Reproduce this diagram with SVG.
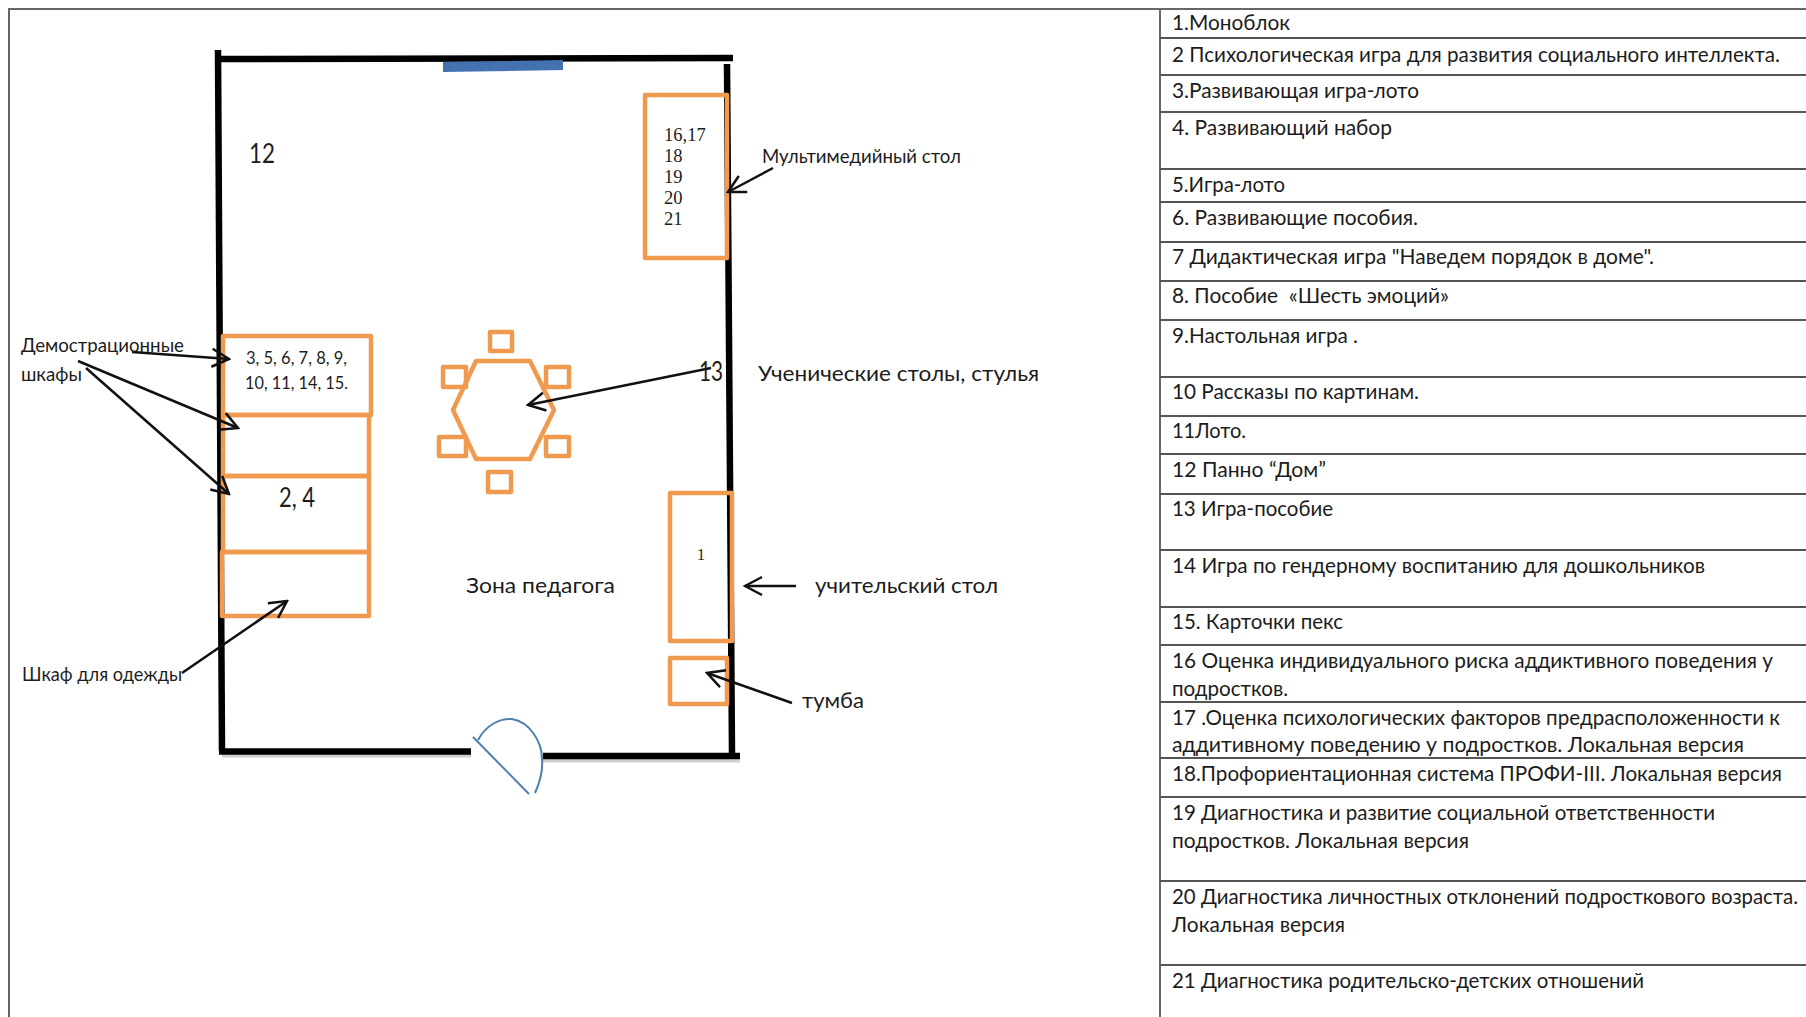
<svg xmlns="http://www.w3.org/2000/svg" width="1806" height="1017" viewBox="0 0 1806 1017">
<style>
text{font-family:"Lato","Open Sans","Noto Sans","Liberation Sans",sans-serif;fill:#1c1c1c;white-space:pre}
.t{font-size:21px}
.t2{font-size:20.4px}
.l{font-size:20px}
.m{font-size:26px}
.s{font-size:18px}
.r{font-family:"Liberation Serif",serif;font-size:18.5px}
.wall{fill:none;stroke:#000;stroke-width:6.5}
.o{fill:none;stroke:#f09a4f;stroke-width:4.5;stroke-linejoin:round}
.fl{stroke:#666;stroke-width:2}
.tl{stroke:#555;stroke-width:2}
.a{stroke:#111;stroke-width:2.5;fill:none;marker-end:url(#h)}
.d{fill:none;stroke:#4f7fae;stroke-width:2}
</style>
<defs>
<marker id="h" markerUnits="userSpaceOnUse" viewBox="-20 -12 22 24" markerWidth="22" markerHeight="24" refX="0" refY="0" orient="auto">
<path d="M-17,-9 L0,0 L-17,9" fill="none" stroke="#111" stroke-width="2.5"/>
</marker>
</defs>
<rect width="1806" height="1017" fill="#fff"/>
<g id="frame">
<path class="fl" d="M9,1017 V9 H1806" fill="none"/>
<path class="fl" d="M1160,9 V1017"/>
</g>
<g id="table-lines">
<path class="tl" d="M1160,38H1806M1160,75H1806M1160,112H1806M1160,169H1806M1160,202H1806M1160,242H1806M1160,281H1806M1160,320H1806M1160,377H1806M1160,416H1806M1160,454H1806M1160,494H1806M1160,550H1806M1160,607H1806M1160,645H1806M1160,702H1806M1160,758H1806M1160,797H1806M1160,881H1806M1160,965H1806"/>
</g>
<g id="table-text">
<text class="t" x="1172" y="30" textLength="118" lengthAdjust="spacingAndGlyphs">1.Моноблок</text>
<text class="t" x="1172" y="62" textLength="608" lengthAdjust="spacingAndGlyphs">2 Психологическая игра для развития социального интеллекта.</text>
<text class="t" x="1172" y="98" textLength="247" lengthAdjust="spacingAndGlyphs">3.Развивающая игра-лото</text>
<text class="t" x="1172" y="135" textLength="220" lengthAdjust="spacingAndGlyphs">4. Развивающий набор</text>
<text class="t" x="1172" y="192" textLength="113" lengthAdjust="spacingAndGlyphs">5.Игра-лото</text>
<text class="t" x="1172" y="225" textLength="246" lengthAdjust="spacingAndGlyphs">6. Развивающие пособия.</text>
<text class="t" x="1172" y="264" textLength="482" lengthAdjust="spacingAndGlyphs">7 Дидактическая игра "Наведем порядок в доме".</text>
<text class="t" x="1172" y="303" textLength="277" lengthAdjust="spacingAndGlyphs">8. Пособие  «Шесть эмоций»</text>
<text class="t" x="1172" y="343" textLength="186" lengthAdjust="spacingAndGlyphs">9.Настольная игра .</text>
<text class="t" x="1172" y="399" textLength="247" lengthAdjust="spacingAndGlyphs">10 Рассказы по картинам.</text>
<text class="t" x="1172" y="438" textLength="74" lengthAdjust="spacingAndGlyphs">11Лото.</text>
<text class="t" x="1172" y="477" textLength="154" lengthAdjust="spacingAndGlyphs">12 Панно “Дом”</text>
<text class="t" x="1172" y="516" textLength="161" lengthAdjust="spacingAndGlyphs">13 Игра-пособие</text>
<text class="t" x="1172" y="573" textLength="533" lengthAdjust="spacingAndGlyphs">14 Игра по гендерному воспитанию для дошкольников</text>
<text class="t" x="1172" y="629" textLength="171" lengthAdjust="spacingAndGlyphs">15. Карточки пекс</text>
<text class="t" x="1172" y="668" textLength="601" lengthAdjust="spacingAndGlyphs">16 Оценка индивидуального риска аддиктивного поведения у</text>
<text class="t" x="1172" y="696" textLength="116" lengthAdjust="spacingAndGlyphs">подростков.</text>
<text class="t" x="1172" y="725" textLength="608" lengthAdjust="spacingAndGlyphs">17 .Оценка психологических факторов предрасположенности к</text>
<text class="t" x="1172" y="752" textLength="572" lengthAdjust="spacingAndGlyphs">аддитивному поведению у подростков. Локальная версия</text>
<text class="t2" x="1172" y="781" textLength="610" lengthAdjust="spacingAndGlyphs">18.Профориентационная система ПРОФИ-III. Локальная версия</text>
<text class="t" x="1172" y="820" textLength="543" lengthAdjust="spacingAndGlyphs">19 Диагностика и развитие социальной ответственности</text>
<text class="t" x="1172" y="848" textLength="297" lengthAdjust="spacingAndGlyphs">подростков. Локальная версия</text>
<text class="t" x="1172" y="904" textLength="626" lengthAdjust="spacingAndGlyphs">20 Диагностика личностных отклонений подросткового возраста.</text>
<text class="t" x="1172" y="932" textLength="173" lengthAdjust="spacingAndGlyphs">Локальная версия</text>
<text class="t" x="1172" y="988" textLength="472" lengthAdjust="spacingAndGlyphs">21 Диагностика родительско-детских отношений</text>
</g>
<g id="walls">
<path d="M222,755 H471 M543,760 H740" stroke="#999" stroke-width="5" opacity=".45"/>
<path class="wall" d="M218,50 L222,751"/>
<path class="wall" d="M215,59 L733,58"/>
<path class="wall" d="M727,64 L732,753"/>
<path class="wall" d="M219,751.5 H471"/>
<path class="wall" d="M543,756 H740"/>
</g>
<g id="board"><polygon points="443,62 563,60 563,70 443,72" fill="#4472b0"/></g>
<g id="door">
<path class="d" d="M473,737 L529,794"/>
<path class="d" d="M478,740 C486,725 500,718 512,719 C530,722 542,742 542,759 C543,770 540,782 535,793"/>
</g>
<g id="cabinet-1"><rect class="o" x="223" y="336" width="148" height="79"/>
<text class="s" x="246" y="364" textLength="101" lengthAdjust="spacingAndGlyphs">3, 5, 6, 7, 8, 9,</text>
<text class="s" x="245" y="389" textLength="103" lengthAdjust="spacingAndGlyphs">10, 11, 14, 15.</text></g>
<g id="cabinet-2"><rect class="o" x="223" y="415" width="146" height="61"/></g>
<g id="cabinet-3"><rect class="o" x="223" y="476" width="146" height="76"/>
<text class="m" x="279" y="507" textLength="36" lengthAdjust="spacingAndGlyphs">2, 4</text></g>
<g id="wardrobe"><rect class="o" x="222" y="552" width="147" height="64"/></g>
<g id="media-table"><rect class="o" x="645" y="95" width="82" height="163"/>
<text class="r" x="664" y="141">16,17</text>
<text class="r" x="664" y="162">18</text>
<text class="r" x="664" y="183">19</text>
<text class="r" x="664" y="204">20</text>
<text class="r" x="664" y="225">21</text></g>
<g id="teacher-desk"><rect class="o" x="670" y="493" width="62" height="148"/>
<text class="r" x="701" y="560" text-anchor="middle" style="font-size:16px">1</text></g>
<g id="cupboard"><rect class="o" x="670" y="658" width="57" height="46"/></g>
<g id="student-table">
<polygon class="o" points="453,410 476,361 530,361 554,410 530,459 476,459"/>
<rect class="o" x="490" y="332" width="22" height="19"/>
<rect class="o" x="443" y="367" width="23" height="20"/>
<rect class="o" x="546" y="367" width="23" height="20"/>
<rect class="o" x="439" y="437" width="27" height="19"/>
<rect class="o" x="546" y="437" width="23" height="19"/>
<rect class="o" x="488" y="472" width="23" height="20"/>
</g>
<g id="connectors">
<path class="a" d="M132,352 L229,359"/>
<path class="a" d="M78,361 L238,428"/>
<path class="a" d="M86,368 L229,494"/>
<path class="a" d="M182,673 L287,601"/>
<path class="a" d="M711,368 L528,405"/>
<path class="a" d="M773,168 L728,192"/>
<path class="a" d="M796,586 L745,586"/>
<path class="a" d="M792,703 L707,673"/>
</g>
<g id="labels">
<text class="l" x="21" y="352" textLength="163" lengthAdjust="spacingAndGlyphs">Демострационные</text>
<text class="l" x="21" y="381" textLength="61" lengthAdjust="spacingAndGlyphs">шкафы</text>
<text class="m" x="249" y="163" textLength="26" lengthAdjust="spacingAndGlyphs">12</text>
<text class="l" x="22" y="681" textLength="160" lengthAdjust="spacingAndGlyphs">Шкаф для одежды</text>
<text class="t" x="466" y="593" textLength="149" lengthAdjust="spacingAndGlyphs">Зона педагога</text>
<text class="l" x="762" y="163" textLength="199" lengthAdjust="spacingAndGlyphs">Мультимедийный стол</text>
<text class="m" x="699" y="381" textLength="24" lengthAdjust="spacingAndGlyphs">13</text>
<text class="t" x="758" y="381" textLength="281" lengthAdjust="spacingAndGlyphs">Ученические столы, стулья</text>
<text class="t" x="815" y="593" textLength="183" lengthAdjust="spacingAndGlyphs">учительский стол</text>
<text class="t" x="802" y="708" textLength="62" lengthAdjust="spacingAndGlyphs">тумба</text>
</g>
</svg>
